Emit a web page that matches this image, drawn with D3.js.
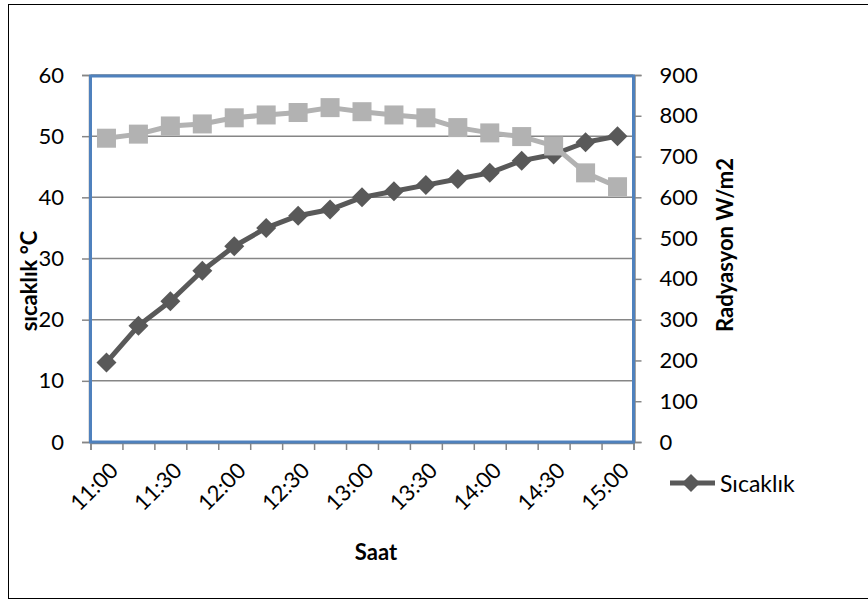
<!DOCTYPE html>
<html>
<head>
<meta charset="utf-8">
<script src="https://cdn.jsdelivr.net/npm/d3@7"></script>
<style>
  html, body { margin: 0; padding: 0; background: #fff; }
  svg { display: block; font-family: Lato, "Open Sans", sans-serif; }
</style>
</head>
<body>
<svg id="chart" width="868" height="601"></svg>
<script>
// Time of day (every 15 minutes)
const times = ["11:00","11:15","11:30","11:45","12:00","12:15","12:30","12:45","13:00",
               "13:15","13:30","13:45","14:00","14:15","14:30","14:45","15:00"];
// Temperature, °C (left axis)
const temperature = [13, 19, 23, 28, 32, 35, 37, 38, 40, 41, 42, 43, 44, 46, 47, 49, 50];
// Radiation, W/m2 (right axis)
const radiation = [745, 755, 775, 780, 795, 802, 808, 820, 810, 802, 795, 771, 758, 749, 726, 660, 626];
// Axis tick values
const tempTicks = [0, 10, 20, 30, 40, 50, 60];
const radTicks = [0, 100, 200, 300, 400, 500, 600, 700, 800, 900];
// Category labels shown under the axis
const shownLabels = ["11:00","11:30","12:00","12:30","13:00","13:30","14:00","14:30","15:00"];

const svg = d3.select("#chart");
const plot = { left: 90.5, right: 633.5, top: 75, bottom: 442 };
const gridColor = "#868686";
const darkColor = "#595959";
const lightColor = "#b2b2b2";

// Outer chart frame
svg.append("rect")
  .attr("x", 8.5).attr("y", 4.5).attr("width", 880).attr("height", 594)
  .attr("fill", "#fff").attr("stroke", "#000").attr("stroke-width", 1);

const x = d3.scaleBand().domain(times).range([plot.left, plot.right]).padding(0);
const xEdge = d3.scaleLinear().domain([0, times.length]).range([plot.left, plot.right]);
const yL = d3.scaleLinear().domain([0, 60]).range([plot.bottom, plot.top]);
const yR = d3.scaleLinear().domain([0, 900]).range([plot.bottom, plot.top]);

// Horizontal gridlines
svg.append("g").selectAll("line")
  .data(tempTicks.filter(v => v > 0))
  .join("line")
  .attr("x1", plot.left).attr("x2", plot.right)
  .attr("y1", d => yL(d)).attr("y2", d => yL(d))
  .attr("stroke", gridColor).attr("stroke-width", 1.5);

// Left axis
const gL = svg.append("g").attr("transform", `translate(${plot.left - 1.5},0)`)
  .call(d3.axisLeft(yL).tickValues(tempTicks).tickSize(7).tickPadding(18).tickFormat(d3.format("d")));
// Right axis
const gR = svg.append("g").attr("transform", `translate(${plot.right + 1},0)`)
  .call(d3.axisRight(yR).tickValues(radTicks).tickSize(7).tickPadding(18).tickFormat(d3.format("d")));
// Bottom axis: tick marks on category boundaries
const gB = svg.append("g").attr("transform", `translate(0,${plot.bottom + 1})`)
  .call(d3.axisBottom(xEdge).tickValues(d3.range(times.length + 1)).tickSize(7).tickFormat(""));

[gL, gR, gB].forEach(g => {
  g.select(".domain").attr("stroke", gridColor).attr("stroke-width", 1.5);
  g.selectAll(".tick line").attr("stroke", gridColor).attr("stroke-width", 1.5);
  g.selectAll(".tick text").attr("fill", "#000").attr("font-size", 22)
    .attr("font-family", "Lato, 'Open Sans', sans-serif");
});

// Rotated category labels
svg.append("g").selectAll("text")
  .data(shownLabels)
  .join("text")
  .attr("transform", d => `translate(${x(d) + x.bandwidth() / 2 + 13},${plot.bottom + 30}) rotate(-45)`)
  .attr("text-anchor", "end")
  .attr("font-size", 22)
  .attr("fill", "#000")
  .text(d => d);

// Plot area border
svg.append("rect")
  .attr("x", plot.left).attr("y", plot.top + 1)
  .attr("width", plot.right - plot.left).attr("height", plot.bottom - plot.top - 1)
  .attr("fill", "none").attr("stroke", "#4f81bd").attr("stroke-width", 3);

const cx = d => x(d) + x.bandwidth() / 2;

// Temperature series: line with diamond markers
svg.append("path")
  .datum(times.map((t, i) => [cx(t), yL(temperature[i])]))
  .attr("d", d3.line())
  .attr("fill", "none").attr("stroke", darkColor).attr("stroke-width", 5)
  .attr("stroke-linejoin", "round");
const diamond = s => `M0,${-s}L${s},0L0,${s}L${-s},0Z`;
svg.append("g").selectAll("path")
  .data(temperature)
  .join("path")
  .attr("transform", (d, i) => `translate(${cx(times[i])},${yL(d)})`)
  .attr("d", diamond(10))
  .attr("fill", darkColor);

// Radiation series: line with square markers
svg.append("path")
  .datum(times.map((t, i) => [cx(t), yR(radiation[i])]))
  .attr("d", d3.line())
  .attr("fill", "none").attr("stroke", lightColor).attr("stroke-width", 5)
  .attr("stroke-linejoin", "round");
svg.append("g").selectAll("rect")
  .data(radiation)
  .join("rect")
  .attr("x", (d, i) => cx(times[i]) - 9.5)
  .attr("y", d => yR(d) - 9.5)
  .attr("width", 19).attr("height", 19)
  .attr("fill", lightColor);

// Axis titles
svg.append("text")
  .attr("transform", `translate(37,281) rotate(-90)`)
  .attr("text-anchor", "middle").attr("font-size", 22).attr("font-weight", "bold")
  .text("sıcaklık °C");
svg.append("text")
  .attr("transform", `translate(733,245) rotate(-90)`)
  .attr("text-anchor", "middle").attr("font-size", 22).attr("font-weight", "bold")
  .text("Radyasyon W/m2");
svg.append("text")
  .attr("x", 376).attr("y", 560)
  .attr("text-anchor", "middle").attr("font-size", 22).attr("font-weight", "bold")
  .text("Saat");

// Legend
const lg = svg.append("g").attr("transform", "translate(0,483)");
lg.append("line").attr("x1", 670).attr("x2", 715).attr("y1", 0).attr("y2", 0)
  .attr("stroke", darkColor).attr("stroke-width", 5);
lg.append("path").attr("transform", "translate(691,0)").attr("d", diamond(9)).attr("fill", darkColor);
lg.append("text").attr("x", 720).attr("y", 9).attr("font-size", 23).attr("fill", "#000").text("Sıcaklık");
</script>
</body>
</html>
